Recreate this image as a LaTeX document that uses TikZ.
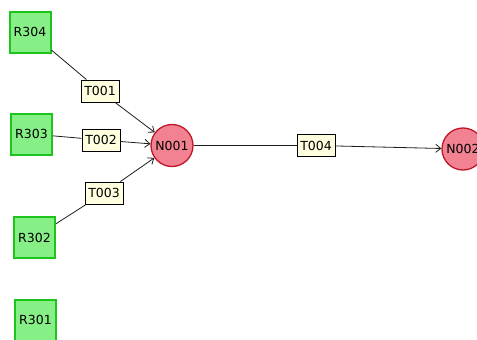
\documentclass[tikz,border=0pt]{standalone}
\usepackage{fontspec}
\setmainfont{DejaVu Sans}
\usetikzlibrary{arrows.meta}
\definecolor{resFill}{RGB}{134,240,134}
\definecolor{resEdge}{RGB}{30,196,30}
\definecolor{netFill}{RGB}{242,130,146}
\definecolor{netEdge}{RGB}{190,24,40}
\definecolor{labelFill}{RGB}{255,255,224}
\definecolor{linkGray}{RGB}{30,30,30}
\tikzset{%
  % Specifications for style of nodes:
            base/.style = {draw, inner sep=0pt, text centered,
                           font=\fontsize{12.5}{14}\selectfont},
            resBox/.style = {base, rectangle, draw=resEdge, fill=resFill,
                             line width=2pt, minimum width=41pt, minimum height=41pt},
            netNode/.style = {base, circle, draw=netEdge, fill=netFill,
                              line width=1.3pt, minimum size=42pt},
            transLabel/.style = {base, rectangle, draw=black, fill=labelFill,
                                 line width=0.9pt, minimum width=38pt, minimum height=22pt},
            link/.style = {draw=linkGray, line width=0.8pt},
 }

\begin{document}
\begin{tikzpicture}[x=1pt, y=-1pt, >={Straight Barb[length=5pt,width=8pt]}]
  \useasboundingbox (0,0) rectangle (477,340);
  % Specification of nodes (position, etc.)
     \node (r304) [resBox] at (30,32) {R304};
     \node (r303) [resBox] at (31.5,134) {R303};
     \node (r302) [resBox] at (34.5,237.5) {R302};
     \node (r301) [resBox] at (35.5,320) {R301};

     \node (n001) [netNode] at (172,145.5) {N001};
     \node (n002) [netNode] at (463,149) {N002};

     \node (t001) [transLabel] at (100,91) {T001};
     \node (t002) [transLabel] at (101,140) {T002};
     \node (t003) [transLabel] at (104,193) {T003};
     \node (t004) [transLabel] at (316,145.5) {T004};

     \draw[link] (r304) -- (t001);
     \draw[link] (r303) -- (t002);
     \draw[link] (r302) -- (t003);
     \draw[link] (n001) -- (t004);

     \draw[link, ->] (t001) -- (n001);
     \draw[link, ->] (t002) -- (n001);
     \draw[link, ->] (t003) -- (n001);
     \draw[link, ->] (t004) -- (n002);
   \end{tikzpicture}
\end{document}
